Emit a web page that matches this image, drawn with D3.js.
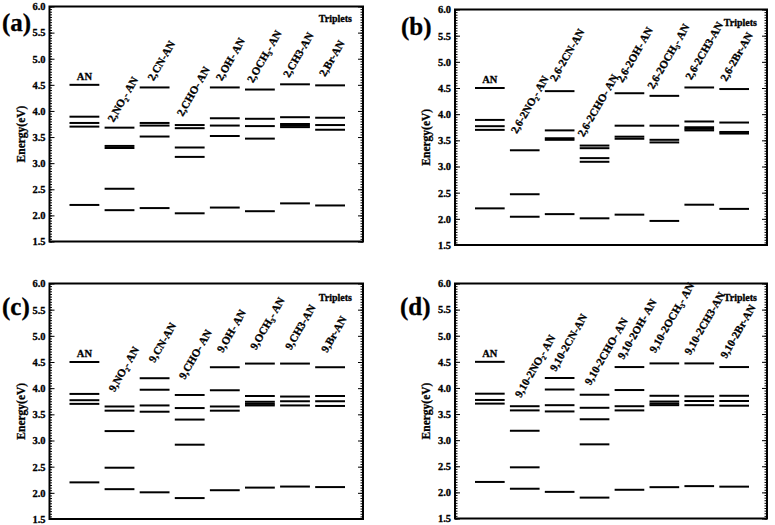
<!DOCTYPE html>
<html><head><meta charset="utf-8">
<script src="https://cdn.jsdelivr.net/npm/d3@7"></script>
<style>
body{margin:0;background:#fff}
svg{display:block}
text{font-family:"Liberation Serif","Times New Roman",serif;font-weight:bold;fill:#000;stroke:#000;stroke-width:0.3px}
</style>
</head><body>
<svg id="chart" width="775" height="525"></svg>
<script>
// ---- data ----
const yTicks = [1.5, 2.0, 2.5, 3.0, 3.5, 4.0, 4.5, 5.0, 5.5, 6.0];
const yTickLabels = ["1.5", "2.0", "2.5", "3.0", "3.5", "4.0", "4.5", "5.0", "5.5", "6.0"];
const yAxisTitle = "Energy(eV)";
const seriesNote = "Triplets";
const panelNames = ["(a)", "(b)", "(c)", "(d)"];

const catsA = ["AN", "2,NO₂- AN", "2,CN-AN", "2,CHO- AN", "2,OH- AN", "2,OCH₃- AN", "2,CH3-AN", "2,Br-AN"];
const levelsA = [
  [4.50, 3.89, 3.77, 3.70, 2.20],
  [3.68, 3.33, 3.29, 2.51, 2.10],
  [4.45, 3.77, 3.72, 3.51, 2.14],
  [3.73, 3.67, 3.30, 3.12, 2.04],
  [4.45, 3.86, 3.72, 3.52, 2.15],
  [4.41, 3.85, 3.71, 3.47, 2.08],
  [4.51, 3.88, 3.75, 3.72, 3.69, 2.23],
  [4.49, 3.87, 3.73, 3.64, 2.19]
];

const catsB = ["AN", "2,6-2NO₂- AN", "2,6-2CN-AN", "2,6-2CHO- AN", "2,6-2OH- AN", "2,6-2OCH₃- AN", "2,6-2CH3-AN", "2,6-2Br-AN"];
const levelsB = [
  [4.50, 3.89, 3.77, 3.70, 2.20],
  [3.31, 2.47, 2.04],
  [4.44, 3.69, 3.54, 3.51, 2.09],
  [3.40, 3.35, 3.16, 3.09, 2.01],
  [4.40, 3.78, 3.57, 3.53, 2.08],
  [4.35, 3.78, 3.51, 3.46, 1.96],
  [4.51, 3.86, 3.75, 3.72, 3.69, 2.27],
  [4.48, 3.84, 3.66, 3.63, 2.19]
];

const catsC = ["AN", "9,NO₂- AN", "9,CN-AN", "9,CHO- AN", "9,OH- AN", "9,OCH₃- AN", "9,CH3-AN", "9,Br-AN"];
const levelsC = [
  [4.50, 3.89, 3.77, 3.70, 2.20],
  [3.65, 3.57, 3.18, 2.48, 2.07],
  [4.19, 3.97, 3.67, 3.55, 2.01],
  [3.87, 3.62, 3.40, 2.92, 1.90],
  [4.40, 3.96, 3.65, 3.57, 2.05],
  [4.47, 3.85, 3.74, 3.70, 3.67, 2.10],
  [4.47, 3.84, 3.75, 3.67, 2.12],
  [4.40, 3.85, 3.75, 3.66, 2.11]
];

const catsD = ["AN", "9,10-2NO₂- AN", "9,10-2CN-AN", "9,10-2CHO- AN", "9,10-2OH- AN", "9,10-2OCH₃- AN", "9,10-2CH3-AN", "9,10-2Br-AN"];
const levelsD = [
  [4.50, 3.89, 3.77, 3.70, 2.20],
  [3.65, 3.57, 3.18, 2.48, 2.07],
  [4.19, 3.97, 3.67, 3.55, 2.01],
  [3.87, 3.62, 3.40, 2.92, 1.90],
  [4.40, 3.96, 3.65, 3.57, 2.05],
  [4.47, 3.85, 3.74, 3.70, 3.67, 2.10],
  [4.47, 3.84, 3.75, 3.67, 2.12],
  [4.40, 3.85, 3.75, 3.66, 2.11]
];

// ---- layout (positions/styles only) ----
const layout = [
  {cats: catsA, levels: levelsA, x0: 49.5, x1: 363, top: 6.5, bot: 241.5, nameX: 2, nameY: 31, noteX: 352, noteY: 22,
   dx: [0, -6, -1, -7, -3, -7, -6, -5], gap: [5, 5, 6, 8, 6, 6, 6, 8]},
  {cats: catsB, levels: levelsB, x0: 455, x1: 767, top: 9.5, bot: 245, nameX: 401, nameY: 35, noteX: 757, noteY: 26,
   dx: [0, -8, -4, -11, -7, -11, -8, -8], gap: [5, 16, 9, 8, 10, 6, 7, 7]},
  {cats: catsC, levels: levelsC, x0: 49.5, x1: 363, top: 283.5, bot: 519, nameX: 2, nameY: 315, noteX: 352, noteY: 301,
   dx: [0, -5, 0, -5, -2, -4, -4, -3], gap: [5, 14, 15, 15, 14, 13, 13, 14]},
  {cats: catsD, levels: levelsD, x0: 455, x1: 767, top: 283.5, bot: 518.5, nameX: 400, nameY: 315, noteX: 757, noteY: 301,
   dx: [0, -4, -4, -4, -6, -9, -9, -8], gap: [5, 8, 6, 9, 7, 10, 8, 8]}
];

const svg = d3.select("#chart");
const minorTicks = d3.range(30, 121).map(d => d / 20);

layout.forEach((p, pi) => {
  const g = svg.append("g");
  const y = d3.scaleLinear().domain([1.5, 6.0]).range([p.bot, p.top]);
  const x = d3.scaleBand().domain(p.cats).range([p.x0 + 20, p.x1 - 18]).paddingInner(0.15);

  // minor ticks left & right (inward)
  const minL = d3.axisLeft(y).tickValues(minorTicks).tickSize(-2.5).tickFormat("");
  const minR = d3.axisRight(y).tickValues(minorTicks).tickSize(-2.5).tickFormat("");
  g.append("g").attr("transform", `translate(${p.x0},0)`).call(minL).call(a => a.select(".domain").remove());
  g.append("g").attr("transform", `translate(${p.x1},0)`).call(minR).call(a => a.select(".domain").remove());

  // major ticks with labels
  const majL = d3.axisLeft(y).tickValues(yTicks).tickSize(-5).tickPadding(4)
    .tickFormat((d, i) => yTickLabels[i]);
  const majR = d3.axisRight(y).tickValues(yTicks).tickSize(-5).tickFormat("");
  const axL = g.append("g").attr("transform", `translate(${p.x0},0)`).call(majL);
  axL.select(".domain").remove();
  axL.selectAll("text").attr("font-size", 10.5).attr("fill", "#000");
  g.append("g").attr("transform", `translate(${p.x1},0)`).call(majR).call(a => a.select(".domain").remove());
  g.selectAll(".tick line").attr("stroke", "#000").attr("stroke-width", 1);

  // frame
  g.append("rect").attr("x", p.x0).attr("y", p.top)
    .attr("width", p.x1 - p.x0).attr("height", p.bot - p.top)
    .attr("fill", "none").attr("stroke", "#000").attr("stroke-width", 2);

  // levels
  p.cats.forEach((c, i) => {
    g.selectAll(null).data(p.levels[i]).enter().append("line")
      .attr("x1", x(c)).attr("x2", x(c) + x.bandwidth())
      .attr("y1", d => y(d)).attr("y2", d => y(d))
      .attr("stroke", "#000").attr("stroke-width", 2);
    const topY = y(d3.max(p.levels[i]));
    const cx = x(c) + x.bandwidth() / 2;
    if (i === 0) {
      g.append("text").attr("x", cx).attr("y", topY - p.gap[0]).attr("text-anchor", "middle")
        .attr("font-size", 10.5).text(c);
    } else {
      g.append("text").attr("transform", `translate(${cx + p.dx[i]},${topY - p.gap[i]}) rotate(-60)`)
        .attr("font-size", 11).text(c);
    }
  });

  // titles
  g.append("text").attr("transform", `translate(${p.x0 - 25},${(p.top + p.bot) / 2 + 10}) rotate(-90)`)
    .attr("text-anchor", "middle").attr("font-size", 11.5).text(yAxisTitle);
  g.append("text").attr("x", p.nameX).attr("y", p.nameY).attr("font-size", 25).text(panelNames[pi]);
  g.append("text").attr("x", p.noteX).attr("y", p.noteY).attr("text-anchor", "end")
    .attr("font-size", 10).text(seriesNote);
});
</script>
</body></html>
